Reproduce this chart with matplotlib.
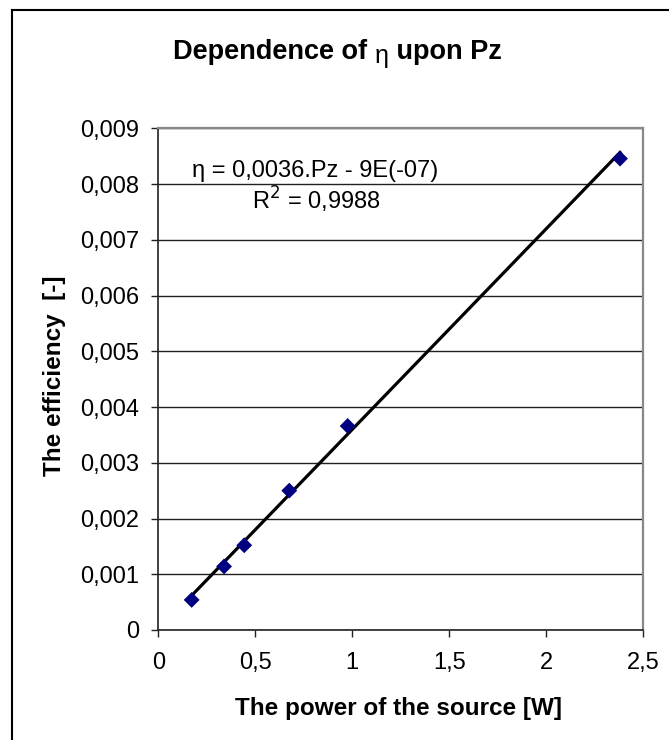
import matplotlib
matplotlib.use("Agg")
import matplotlib.pyplot as plt
import numpy as np
from matplotlib.ticker import FuncFormatter, MultipleLocator
from matplotlib.lines import Line2D

plt.rcParams['font.family'] = ['Liberation Sans', 'DejaVu Sans']

# data
power = [0.172, 0.339, 0.443, 0.675, 0.976, 2.38]
efficiency = [0.00054, 0.00114, 0.00152, 0.00250, 0.00366, 0.008456]
slope = 0.0036
intercept = -9e-7
title_parts = ["Dependence of ", "\u03b7", " upon Pz"]
eq_text = "\u03b7 = 0,0036.Pz - 9E(-07)"
r2_text = "R$^2$ = 0,9988"
xlabel = "The power of the source [W]"
ylabel = "The efficiency  [-]"

W, H = 669, 740
fig = plt.figure(figsize=(W/100, H/100), dpi=100)
ax = fig.add_axes([158.3/W, (H-630)/H, (643.3-158.3)/W, (630-128.3)/H])

ax.set_xlim(0, 2.5)
ax.set_ylim(0, 0.009)
ax.xaxis.set_major_locator(MultipleLocator(0.5))
ax.yaxis.set_major_locator(MultipleLocator(0.001))

def fmt(v, pos):
    s = ('%.3f' % v).rstrip('0').rstrip('.') if abs(v) > 1e-12 else '0'
    return s.replace('.', ',')
ax.xaxis.set_major_formatter(FuncFormatter(fmt))
ax.yaxis.set_major_formatter(FuncFormatter(fmt))

ax.grid(axis='y', color='#202020', lw=1.0)
ax.set_axisbelow(True)
for s in ['top', 'right']:
    ax.spines[s].set_color('#888888')
    ax.spines[s].set_linewidth(1.6)
for s in ['left', 'bottom']:
    ax.spines[s].set_color('#222222')
    ax.spines[s].set_linewidth(1.2)
ax.tick_params(direction='out', length=5, width=1.0, color='#222222', labelsize=17)
ax.tick_params(axis='y', pad=9)
ax.tick_params(axis='x', pad=11)

xfit = np.array([min(power), max(power)])
ax.plot(xfit, slope*xfit + intercept, color='black', lw=2.3, zorder=3)
ax.scatter(power, efficiency, marker='D', s=65, color='#000080', zorder=4, edgecolors='none')

fig.text(399/W, (H-708)/H, xlabel, fontsize=17.5, fontweight='bold', ha='center', va='center')
fig.text(54/W, (H-376)/H, ylabel, fontsize=17.5, fontweight='bold', ha='center', va='center',
         rotation=90)

fig.text(315/W, (H-177)/H, eq_text, ha='center', va='baseline', fontsize=17)
fig.text(316/W, (H-210)/H, r2_text, ha='center', va='baseline', fontsize=17)

# title composed of parts
r = fig.canvas.get_renderer()
sizes = [19.5, 18, 19.5]
weights = ['bold', 'normal', 'bold']
offsets = [0, -4, 0]
texts = []
for p, sz, wt in zip(title_parts, sizes, weights):
    t = fig.text(0, 0, p, fontsize=sz, fontweight=wt, ha='left', va='baseline')
    texts.append(t)
widths = [t.get_window_extent(r).width for t in texts]
xcur = 173
baseline = H - 59
for t, w, off in zip(texts, widths, offsets):
    t.set_position((xcur/W, (baseline + off)/H))
    xcur += w

# outer frame (extends past right and bottom edge)
fig.add_artist(Line2D([12/W, 12/W], [0, (H-10)/H], transform=fig.transFigure, color='black', lw=1.5))
fig.add_artist(Line2D([12/W, 1], [(H-10)/H, (H-10)/H], transform=fig.transFigure, color='black', lw=1.5))

fig.savefig('out.png', dpi=100)
